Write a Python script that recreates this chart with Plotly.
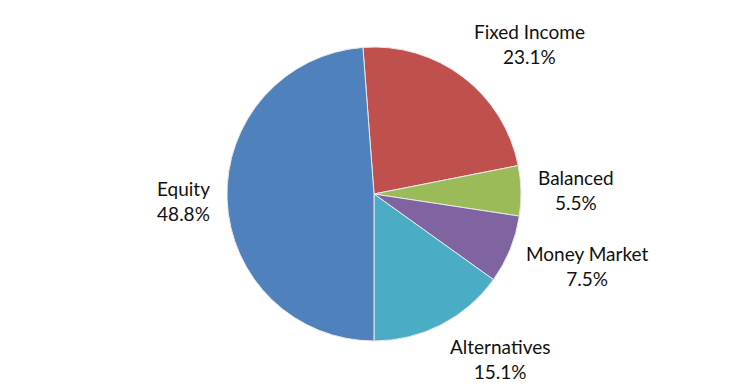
import math
import plotly.graph_objects as go

labels = ["Fixed Income", "Balanced", "Money Market", "Alternatives", "Equity"]
values = [23.1, 5.5, 7.5, 15.1, 48.8]
colors = ["#C0504D", "#9BBB59", "#8064A2", "#4BACC6", "#4F81BD"]

# page has an 8px body margin, so the figure is drawn 8px in from the window edge
W, H = 740, 380
CX, CY, R = 366, 186, 147
rotation = -(360 - values[-1] / sum(values) * 360 - 180)  # start of first slice

fig = go.Figure(go.Pie(
    labels=labels, values=values, sort=False, direction="clockwise",
    rotation=rotation, textinfo="none", hoverinfo="label+percent",
    marker=dict(colors=colors, line=dict(color="#E8E8E8", width=1)),
    domain=dict(x=[(CX - R) / W, (CX + R) / W], y=[(H - CY - R) / H, (H - CY + R) / H]),
    showlegend=False,
))

total = sum(values)
cum = 0.0
annotations = []
for lab, v in zip(labels, values):
    mid = rotation + (cum + v / 2) / total * 360
    cum += v
    a = math.radians(mid)
    s, c = math.sin(a), math.cos(a)
    xa = "left" if s > 0.3 else ("right" if s < -0.3 else "center")
    ya = "bottom" if c > 0.5 else ("top" if c < -0.5 else "middle")
    ky = 1.3 if ya == "middle" else 1.06
    px = CX + 1.1 * R * s
    py = CY - ky * R * c
    annotations.append(dict(
        x=px / W, y=(H - py) / H, xref="paper", yref="paper",
        text=f"{lab}<br>{v:.1f}%", showarrow=False, xanchor=xa, yanchor=ya,
        align="center", font=dict(family="Lato, Carlito, Calibri, sans-serif", size=19, color="#111111"),
    ))

fig.update_layout(
    width=W, height=H, margin=dict(l=0, r=0, t=0, b=0),
    paper_bgcolor="white", plot_bgcolor="white", annotations=annotations,
)
fig.write_html("out.html")
